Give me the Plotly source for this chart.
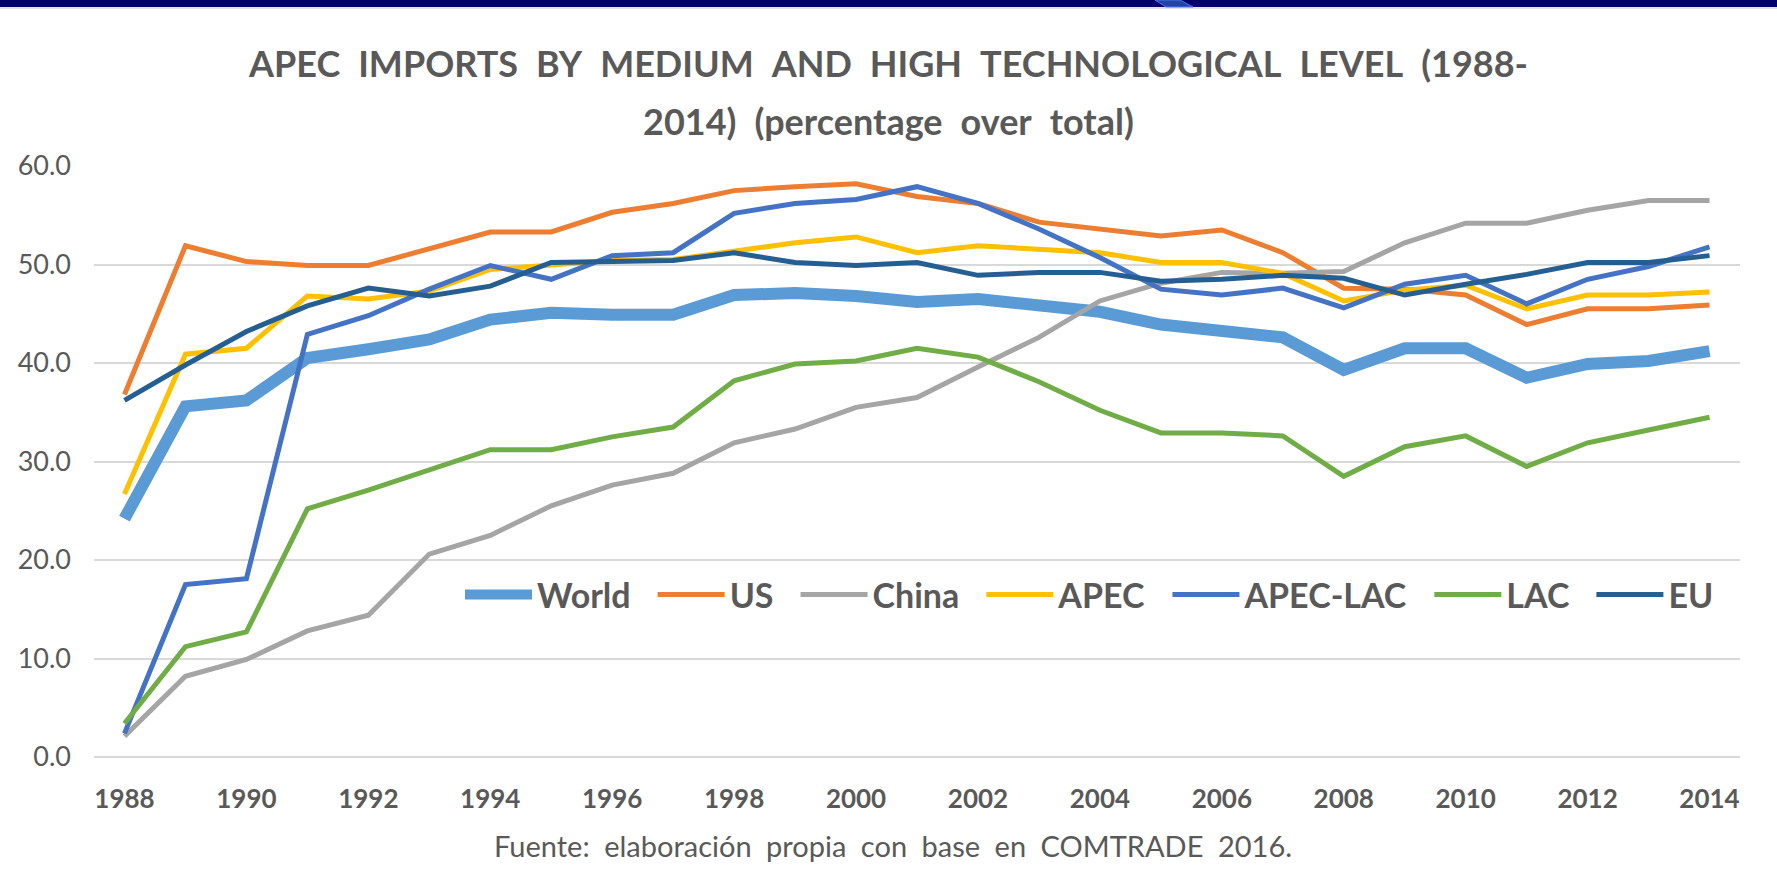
import plotly.graph_objects as go

years = list(range(1988, 2015))

world = [24.2, 35.6, 36.2, 40.5, 41.4, 42.4, 44.4, 45.1, 44.9, 44.9, 46.9, 47.1, 46.8, 46.2,
         46.5, 45.8, 45.2, 43.9, 43.4, 42.6, 39.3, 41.5, 41.5, 38.5, 39.9, 40.2, 41.2]
us = [36.8, 51.9, 50.3, 49.9, 49.9, 51.6, 53.3, 53.3, 55.3, 56.2, 57.5, 57.9, 58.2, 56.9,
      56.2, 54.3, 53.6, 52.9, 53.5, 51.2, 47.6, 47.5, 46.9, 43.9, 45.5, 45.5, 45.9]
china = [2.1, 8.2, 9.9, 12.8, 14.4, 20.6, 22.5, 25.5, 27.6, 28.8, 31.9, 33.3, 35.5, 36.5,
         39.6, 42.6, 46.3, 48.1, 49.2, 49.1, 49.3, 52.2, 54.2, 54.2, 55.5, 56.5, 56.5]
apec = [26.7, 40.9, 41.5, 46.8, 46.5, 47.3, 49.5, 49.9, 50.4, 50.5, 51.4, 52.2, 52.8, 51.2,
        51.9, 51.6, 51.2, 50.2, 50.2, 49.1, 46.3, 47.4, 47.9, 45.5, 46.9, 46.9, 47.2]
apec_lac = [2.4, 17.5, 18.1, 42.9, 44.8, 47.5, 49.9, 48.5, 50.9, 51.2, 55.2, 56.2, 56.6, 57.9,
            56.2, 53.6, 50.7, 47.5, 46.9, 47.6, 45.6, 48.0, 48.9, 46.0, 48.5, 49.8, 51.8]
lac = [3.4, 11.2, 12.7, 25.2, 27.1, 29.2, 31.2, 31.2, 32.5, 33.5, 38.2, 39.9, 40.2, 41.5,
       40.6, 38.1, 35.2, 32.9, 32.9, 32.6, 28.5, 31.5, 32.6, 29.5, 31.9, 33.2, 34.5]
eu = [36.2, 39.8, 43.2, 45.8, 47.6, 46.8, 47.8, 50.2, 50.3, 50.4, 51.2, 50.2, 49.9, 50.2,
      48.9, 49.2, 49.2, 48.3, 48.5, 48.9, 48.6, 46.9, 48.0, 49.0, 50.2, 50.2, 50.9]

series_names = ["World", "US", "China", "APEC", "APEC-LAC", "LAC", "EU"]
series_values = [world, us, china, apec, apec_lac, lac, eu]
series_colors = ["#5B9BD5", "#ED7D31", "#A5A5A5", "#FFC000", "#4472C4", "#70AD47", "#255E91"]
series_widths = [12, 5, 5, 5, 5, 5, 5]

y_ticks = [0, 10, 20, 30, 40, 50, 60]
y_tick_labels = ["0.0", "10.0", "20.0", "30.0", "40.0", "50.0", "60.0"]

SP = "\u2002"  # wide space, as in the original typesetting
title_line1 = SP.join(["APEC", "IMPORTS", "BY", "MEDIUM", "AND", "HIGH", "TECHNOLOGICAL",
                       "LEVEL", "(1988-"])
title_line2 = SP.join(["2014)", "(percentage", "over", "total)"])
source_text = SP.join(["Fuente:", "elaboración", "propia", "con", "base", "en", "COMTRADE",
                       "2016."])

W, H = 1777, 873
L, R, T, B = 94, 37, 166, 116
PW, PH = W - L - R, H - T - B


def px(x):
    return (x - L) / PW


def py(y):
    return (H - B - y) / PH


FONT = "Lato"
GREY = "#595959"

fig = go.Figure()
n = len(series_names)
for i, (name, vals, col, wd) in enumerate(zip(series_names, series_values, series_colors,
                                              series_widths)):
    label = name + (SP if i < n - 1 else "")
    fig.add_trace(go.Scatter(x=years, y=vals, name=label, mode="lines",
                             line=dict(color=col, width=wd, shape="linear"),
                             legendrank=i, hovertemplate=name + ": %{y:.1f}<extra>%{x}</extra>"))

fig.update_layout(
    width=W, height=H,
    margin=dict(l=L, r=R, t=T, b=B, autoexpand=False),
    paper_bgcolor="white", plot_bgcolor="white",
    font=dict(family=FONT, color=GREY),
    title=dict(text=title_line1, xref="container", yref="container",
               x=0.5, xanchor="center", y=1 - 64 / H, yanchor="middle",
               font=dict(family=FONT, size=36, color=GREY, weight="bold")),
    xaxis=dict(range=[1987.5, 2014.5], tickmode="array",
               tickvals=years[::2], ticktext=[str(y) for y in years[::2]],
               showgrid=False, zeroline=False, showline=False, ticks="",
               ticklabelstandoff=24,
               tickfont=dict(family=FONT, size=26, color=GREY, weight="bold")),
    yaxis=dict(range=[0, 60], tickmode="array", tickvals=y_ticks, ticktext=y_tick_labels,
               showgrid=True, gridcolor="#D9D9D9", gridwidth=2,
               zeroline=True, zerolinecolor="#D9D9D9", zerolinewidth=2,
               showline=False, ticks="", ticklabelstandoff=22,
               tickfont=dict(family=FONT, size=27, color=GREY)),
    legend=dict(orientation="h", x=px(460), xanchor="left", y=py(595), yanchor="middle",
                bgcolor="rgba(0,0,0,0)",
                font=dict(family=FONT, size=34, color=GREY, weight="bold"),
                itemwidth=67, tracegroupgap=0),
    showlegend=True,
)

fig.add_annotation(text=title_line2, xref="paper", yref="paper",
                   x=px(888.5), y=py(121), xanchor="center", yanchor="middle",
                   showarrow=False, font=dict(family=FONT, size=36, color=GREY, weight="bold"))
fig.add_annotation(text=source_text, xref="paper", yref="paper",
                   x=px(893), y=py(845), xanchor="center", yanchor="middle",
                   showarrow=False, font=dict(family=FONT, size=29, color=GREY))

# decorative header band
fig.add_shape(type="rect", xref="paper", yref="paper", x0=px(0), x1=px(W), y0=py(7), y1=py(-2),
              fillcolor="#000066", line=dict(width=0), layer="above")
fig.add_shape(type="line", xref="paper", yref="paper", x0=px(0), x1=px(W), y0=py(8), y1=py(8),
              line=dict(color="#D8D8D8", width=1.5), layer="above")
fig.add_shape(type="path", xref="paper", yref="paper",
              path="M %f %f L %f %f L %f %f L %f %f Z" % (px(1155), py(0), px(1180), py(0),
                                                          px(1193), py(7), px(1166), py(7)),
              fillcolor="#24449E", line=dict(color="#4A78F0", width=1), layer="above")

fig.write_html("out.html", config={"displayModeBar": False},
               post_script="document.body.style.margin='0';")
